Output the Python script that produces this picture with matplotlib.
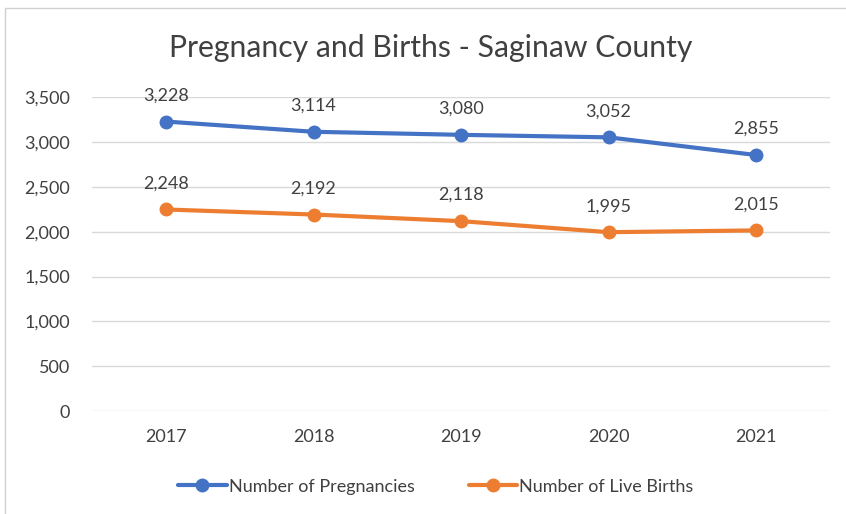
import matplotlib.pyplot as plt
from matplotlib.patches import Rectangle

years = ['2017', '2018', '2019', '2020', '2021']
pregnancies = [3228, 3114, 3080, 3052, 2855]
live_births = [2248, 2192, 2118, 1995, 2015]

plt.rcParams['font.family'] = ['Lato', 'DejaVu Sans']

fig = plt.figure(figsize=(8.46, 5.14), dpi=100)
ax = fig.add_axes([0.109, 0.200, 0.872, 0.611])

x = range(len(years))
series = [
    (pregnancies, 'Number of Pregnancies', '#4472C4'),
    (live_births, 'Number of Live Births', '#ED7D31'),
]
for vals, label, color in series:
    ax.plot(x, vals, color=color, lw=3, marker='o', markersize=9, label=label,
            solid_capstyle='round')
    for xi, v in zip(x, vals):
        ax.annotate(f'{v:,}', (xi, v), xytext=(0, 13), textcoords='offset points',
                    ha='center', va='bottom', fontsize=13, color='#404040')

ax.set_xlim(-0.5, len(years) - 0.5)
ax.set_ylim(0, 3500)
ax.set_yticks(range(0, 3501, 500))
ax.set_yticklabels([f'{v:,}' for v in range(0, 3501, 500)])
ax.set_xticks(list(x))
ax.set_xticklabels(years)
ax.grid(axis='y', color='#D9D9D9', lw=1)
ax.set_axisbelow(True)
for s in ax.spines.values():
    s.set_visible(False)
ax.tick_params(axis='both', length=0, labelsize=13, colors='#404040')
ax.tick_params(axis='x', pad=13)
ax.tick_params(axis='y', pad=16)

fig.suptitle('Pregnancy and Births - Saginaw County', x=0.509, y=0.907,
             va='center', fontsize=21.7, color='#404040')

fig.legend(loc='center', bbox_to_anchor=(0.515, 0.053), ncol=2, frameon=False,
           fontsize=13, handlelength=2.7, handletextpad=0.1, columnspacing=3.0,
           labelcolor='#404040')

fig.patches.append(Rectangle((0.006, -0.01), 1.0, 0.995, transform=fig.transFigure,
                             fill=False, edgecolor='#D0D0D0', lw=1))

fig.savefig('out.png', dpi=100)
